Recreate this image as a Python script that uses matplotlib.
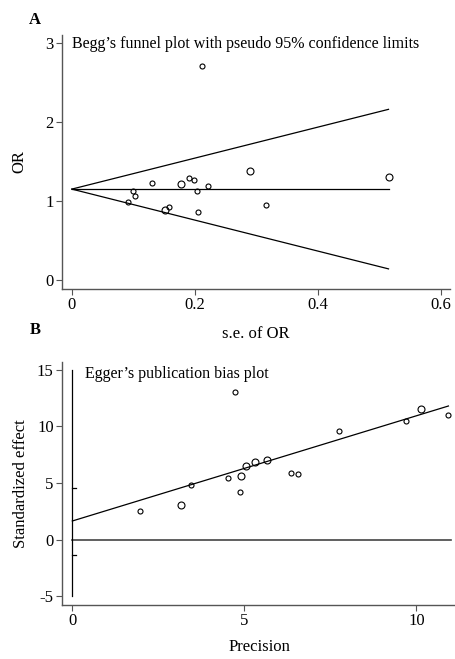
import numpy as np
import matplotlib.pyplot as plt

plt.rcParams['font.family'] = ['Liberation Serif', 'DejaVu Serif']
plt.rcParams['axes.unicode_minus'] = False

# panel A : Begg's funnel plot
se_or = [0.211, 0.091, 0.100, 0.103, 0.130, 0.152, 0.158, 0.177, 0.190, 0.199,
         0.203, 0.205, 0.222, 0.289, 0.315, 0.515]
or_val = [2.71, 0.99, 1.13, 1.06, 1.23, 0.88, 0.92, 1.22, 1.29, 1.26,
          1.13, 0.86, 1.19, 1.38, 0.95, 1.30]
big_a = [0, 0, 0, 0, 0, 1, 0, 1, 0, 0, 0, 0, 0, 1, 0, 1]
pooled = 1.15

# panel B : Egger's plot
precision = [1.96, 3.16, 3.45, 4.52, 4.74, 4.87, 4.91, 5.05, 5.30, 5.66,
             6.35, 6.57, 7.74, 9.70, 10.12, 10.93]
std_eff = [2.50, 3.03, 4.82, 5.41, 13.03, 4.21, 5.65, 6.47, 6.88, 7.00,
           5.91, 5.82, 9.62, 10.50, 11.56, 11.00]
big_b = [0, 1, 0, 0, 0, 0, 1, 1, 1, 1, 0, 0, 0, 0, 1, 0]
intercept = 1.65
slope = 0.928
ci_lo, ci_hi = -1.35, 4.56

W, H = 456, 659
fig = plt.figure(figsize=(W/100, H/100), dpi=100)
ax1 = fig.add_axes([62/W, 1-289/H, 388/W, 254/H])
ax2 = fig.add_axes([62/W, 1-605/H, 394/W, 243.3/H])

spine_col = '#555555'
for ax in (ax1, ax2):
    for s in ('top', 'right'):
        ax.spines[s].set_visible(False)
    for s in ('left', 'bottom'):
        ax.spines[s].set_color(spine_col)
        ax.spines[s].set_linewidth(1.0)
    ax.tick_params(direction='out', length=4, width=0.8, color=spine_col,
                   labelsize=12, pad=2)

# ---- A
s_line = np.array([0.0] + sorted(se_or))
ax1.plot(s_line, pooled + 1.96*s_line, color='black', lw=0.9)
ax1.plot(s_line, pooled - 1.96*s_line, color='black', lw=0.9)
ax1.plot([0, max(se_or)], [pooled, pooled], color='black', lw=0.9)
for x, y, b in zip(se_or, or_val, big_a):
    ax1.plot(x, y, 'o', mfc='none', mec='black', ms=5 if b else 3.6, mew=0.8)
ax1.set_xlim(-0.016, 0.615)
ax1.set_ylim(-0.114, 3.10)
ax1.set_xticks([0, 0.2, 0.4, 0.6])
ax1.set_xticklabels(['0', '0.2', '0.4', '0.6'])
ax1.set_yticks([0, 1, 2, 3])
ax1.set_xlabel('s.e. of OR', fontsize=12, labelpad=9)
ax1.set_ylabel('OR', fontsize=12, labelpad=13)
ax1.text(0, 2.98, "Begg\u2019s funnel plot with pseudo 95% confidence limits",
         fontsize=11.5, ha='left', va='center')
fig.text(35/W, 1-20/H, 'A', fontsize=12, fontweight='bold', ha='center', va='center')

# ---- B
p_line = np.array([0.0] + sorted(precision))
ax2.plot(p_line, intercept + slope*p_line, color='black', lw=0.9)
ax2.plot([0, 11], [0, 0], color='#444444', lw=1.2)
ax2.plot([0, 0], [-5, 15], color='black', lw=0.9)
ax2.plot([0, 0.12], [ci_lo, ci_lo], color='black', lw=0.9)
ax2.plot([0, 0.12], [ci_hi, ci_hi], color='black', lw=0.9)
for x, y, b in zip(precision, std_eff, big_b):
    ax2.plot(x, y, 'o', mfc='none', mec='black', ms=5 if b else 3.6, mew=0.8)
ax2.set_xlim(-0.30, 11.15)
ax2.set_ylim(-5.76, 15.7)
ax2.set_xticks([0, 5, 10])
ax2.set_yticks([-5, 0, 5, 10, 15])
ax2.set_xlabel('Precision', fontsize=12, labelpad=7)
ax2.set_ylabel('Standardized effect', fontsize=12, labelpad=6)
ax2.text(0.36, 14.6, "Egger\u2019s publication bias plot", fontsize=11.5,
         ha='left', va='center')
fig.text(35/W, 1-330/H, 'B', fontsize=12, fontweight='bold', ha='center', va='center')

fig.savefig('out.png', dpi=100)
